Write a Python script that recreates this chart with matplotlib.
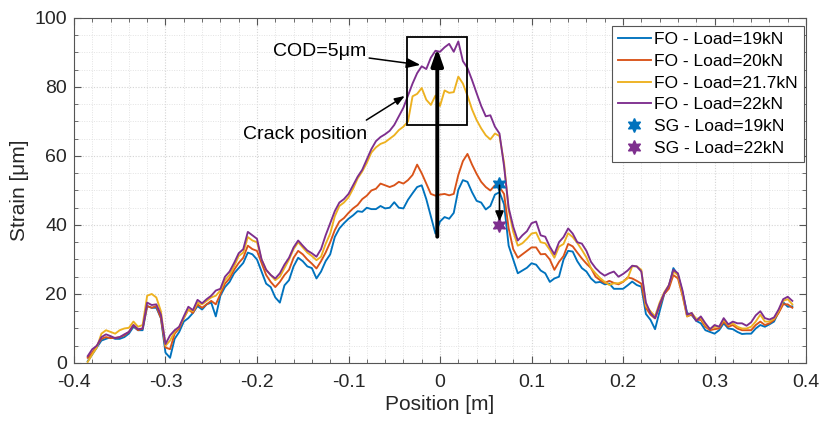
import numpy as np
import matplotlib
matplotlib.use("Agg")
import matplotlib.pyplot as plt
from matplotlib.ticker import MultipleLocator
from matplotlib.patches import Rectangle

plt.rcParams['font.family'] = ['Liberation Sans', 'DejaVu Sans']

# ---------------- data ----------------
position = np.linspace(-0.385, 0.385, 155)

fo_19kN = [
    0.5, 2.5, 4.5, 6.5, 7.0, 7.5, 7.0, 7.0, 7.5, 8.5,
    10.5, 9.5, 9.5, 16.5, 16.0, 16.0, 13.0, 3.0, 1.5, 7.0,
    9.0, 12.0, 13.0, 14.5, 16.5, 15.5, 17.0, 17.5, 13.5, 19.5,
    22.0, 23.5, 26.0, 27.5, 29.0, 32.0, 31.5, 30.0, 26.5, 23.0,
    22.0, 19.0, 17.5, 22.5, 24.0, 28.0, 30.5, 29.5, 28.0, 27.5,
    24.5, 26.5, 29.5, 31.5, 36.5, 39.0, 40.5, 41.8, 42.8, 44.0,
    43.8, 45.0, 44.6, 44.6, 45.5, 44.8, 45.0, 46.6, 45.0, 44.8,
    47.3, 49.2, 51.0, 51.5, 47.5, 42.5, 37.5, 41.0, 42.3, 41.8,
    43.5, 50.2, 53.0, 52.5, 49.5, 47.0, 46.5, 44.5, 45.5, 48.8,
    49.5, 46.0, 34.0, 30.0, 26.0, 26.8, 27.6, 28.9, 28.5, 26.8,
    26.0, 23.5, 24.5, 25.0, 30.0, 32.5, 32.3, 29.5, 27.5, 26.5,
    24.5, 23.3, 23.5, 22.8, 23.0, 21.5, 21.5, 21.5, 22.5, 23.6,
    22.6, 22.1, 14.2, 12.5, 9.8, 15.0, 20.0, 22.0, 27.5, 25.5,
    20.5, 14.5, 13.9, 12.2, 11.5, 9.5, 9.0, 8.5, 9.5, 11.5,
    10.0, 9.8, 9.0, 8.4, 8.5, 8.5, 10.0, 11.0, 10.5, 11.2,
    12.0, 14.8, 17.6, 16.3, 16.4,
]

fo_20kN = [
    1.5, 3.0, 5.0, 7.0, 7.5, 7.2, 7.3, 7.5, 8.0, 9.0,
    11.0, 9.5, 10.0, 16.5, 16.0, 16.5, 13.0, 4.5, 4.0, 8.5,
    10.0, 13.0, 15.5, 14.5, 17.0, 16.0, 17.0, 18.0, 17.0, 20.0,
    23.0, 24.5, 27.0, 29.0, 30.5, 34.0, 33.0, 32.5, 29.0, 25.5,
    23.5, 22.0, 23.5, 25.5, 27.0, 30.5, 32.5, 31.5, 30.0, 28.8,
    27.4, 29.5, 32.0, 35.0, 38.5, 41.0, 42.0, 43.5, 44.8, 45.8,
    47.5, 48.5, 50.0, 50.5, 52.0, 51.5, 51.0, 51.5, 52.5, 52.0,
    53.0, 54.5, 57.5, 55.0, 52.0, 49.0, 48.5, 48.8, 49.0, 48.6,
    49.0, 54.5, 58.5, 60.6, 57.5, 54.8, 52.5, 51.0, 50.0, 51.5,
    51.0, 49.0, 39.0, 33.0, 30.5, 31.5, 32.5, 33.5, 33.5, 31.5,
    31.6, 30.0, 27.0, 29.3, 31.0, 34.5, 33.8, 32.0, 30.3, 28.8,
    27.5, 25.0, 24.0, 23.2, 23.8, 23.2, 22.8, 23.5, 24.8, 24.5,
    23.8, 23.0, 16.0, 14.0, 12.9, 16.5, 20.0, 21.5, 25.5, 24.5,
    19.5, 13.5, 14.0, 12.5, 12.5, 10.5, 9.5, 9.8, 10.0, 12.0,
    10.5, 11.0, 10.0, 9.5, 9.5, 9.5, 11.0, 12.0, 11.0, 11.5,
    12.5, 14.5, 17.0, 17.0, 16.0,
]

fo_21_7kN = [
    0.3, 2.5, 4.5, 8.5, 9.5, 9.0, 8.5, 9.5, 10.0, 10.2,
    12.0, 10.5, 11.0, 19.5, 20.0, 19.0, 15.0, 5.0, 6.5, 9.0,
    10.5, 13.0, 15.5, 15.0, 17.5, 17.0, 18.0, 19.0, 19.5, 21.0,
    24.0, 25.5, 28.0, 31.0, 32.0, 36.5, 35.5, 35.0, 30.0, 27.0,
    25.5, 24.0, 25.0, 27.5, 30.0, 33.0, 35.0, 33.5, 32.0, 31.0,
    29.8, 30.8, 34.5, 37.5, 42.5, 45.5, 46.5, 48.0, 50.5, 53.5,
    55.5, 58.0, 61.0, 62.5, 63.5, 64.0, 65.0, 66.0, 67.5, 68.5,
    70.0, 77.3, 78.0, 79.7, 76.3, 74.8, 77.5, 74.5, 79.0, 78.3,
    78.5, 83.0, 81.0, 77.5, 73.5, 70.4, 68.0, 66.0, 64.8, 66.5,
    65.8, 58.0, 44.3, 38.0, 34.0, 34.7, 36.0, 37.5, 37.8, 35.0,
    34.7, 32.8, 30.5, 33.7, 34.5, 37.6, 36.5, 34.8, 32.8, 30.6,
    27.5, 26.0, 24.6, 23.5, 22.6, 23.1, 23.1, 23.6, 24.5, 28.0,
    28.0, 27.0, 16.5, 15.0, 13.5, 17.5, 20.5, 22.5, 26.5, 25.5,
    20.0, 13.5, 14.5, 12.8, 13.0, 11.0, 9.8, 10.5, 10.5, 12.5,
    11.0, 11.5, 10.5, 10.0, 10.0, 10.5, 12.0, 14.0, 12.0, 12.0,
    12.8, 15.0, 18.0, 18.5, 17.0,
]

fo_22kN = [
    2.0, 4.0, 5.0, 7.5, 8.3, 7.8, 7.2, 7.5, 8.3, 9.0,
    11.0, 9.8, 10.0, 17.5, 16.8, 17.0, 14.0, 5.5, 8.0, 9.5,
    10.5, 13.5, 16.3, 15.3, 18.3, 17.3, 18.5, 19.5, 21.0, 21.5,
    25.0, 26.5, 29.0, 31.8, 33.0, 38.0, 37.0, 36.0, 30.0, 27.0,
    25.5, 24.5, 26.0, 28.5, 30.5, 33.5, 35.5, 34.0, 32.6, 31.8,
    30.8, 33.0, 37.0, 40.5, 44.0, 46.5, 47.5, 49.0, 51.5, 54.0,
    56.0, 59.0, 62.0, 64.3, 65.5, 66.3, 67.3, 69.0, 71.5, 74.0,
    77.5, 81.0, 84.0, 86.0, 85.2, 88.5, 90.5, 90.2, 91.5, 92.5,
    90.2, 93.2, 87.5, 85.5, 82.0, 78.2, 74.5, 71.5, 71.8, 68.5,
    66.5, 57.0, 45.0, 39.5, 35.5, 37.0, 38.2, 40.5, 41.0, 37.0,
    36.6, 33.7, 31.5, 35.0, 36.5, 39.0, 37.5, 35.0, 34.6, 32.5,
    29.3, 27.5, 26.2, 25.3, 26.0, 26.5, 25.0, 25.8, 26.8, 28.2,
    28.0, 26.5, 17.5, 14.5, 13.0, 17.0, 20.2, 22.5, 27.0, 26.0,
    21.0, 14.0, 14.5, 12.2, 13.5, 11.5, 9.8, 11.0, 10.5, 13.0,
    11.2, 12.0, 11.5, 11.5, 10.8, 11.8, 13.8, 15.0, 13.0, 12.6,
    13.2, 15.5, 18.5, 19.2, 18.0,
]

sg_position = [0.065]
sg_19kN = [52.0]
sg_22kN = [40.0]

fo_labels = ['FO - Load=19kN', 'FO - Load=20kN', 'FO - Load=21.7kN', 'FO - Load=22kN']
sg_labels = ['SG - Load=19kN', 'SG - Load=22kN']
x_ticks = [-0.4, -0.3, -0.2, -0.1, 0.0, 0.1, 0.2, 0.3, 0.4]
x_ticklabels = ['-0.4', '-0.3', '-0.2', '-0.1', '0', '0.1', '0.2', '0.3', '0.4']
y_ticks = [0, 20, 40, 60, 80, 100]
y_ticklabels = ['0', '20', '40', '60', '80', '100']
colors = ['#0072BD', '#D95319', '#EDB120', '#7E2F8E']

# ---------------- figure ----------------
fig = plt.figure(figsize=(8.2, 4.21), dpi=100)
ax = fig.add_axes([0.0902, 0.1378, 0.8928, 0.8195])

series = [fo_19kN, fo_20kN, fo_21_7kN, fo_22kN]
for vals, lab, col in zip(series, fo_labels, colors):
    ax.plot(position, vals, color=col, lw=1.35, label=lab)

star = (6, 1, 0)
ax.plot(sg_position, sg_19kN, linestyle='none', marker=star, markersize=10,
        color=colors[0], label=sg_labels[0], zorder=5)
ax.plot(sg_position, sg_22kN, linestyle='none', marker=star, markersize=10,
        color=colors[3], label=sg_labels[1], zorder=5)

# small arrow between the strain gauge values
ax.annotate('', xy=(sg_position[0], sg_22kN[0] + 1.0), xytext=(sg_position[0], sg_19kN[0] - 0.5),
            arrowprops=dict(arrowstyle='-|>,head_length=0.6,head_width=0.25', lw=1.2,
                            color='k', shrinkA=0, shrinkB=0), zorder=6)

# crack box and big arrow
ax.add_patch(Rectangle((-0.0365, 69.0), 0.0665, 25.6, fill=False, ec='k', lw=1.3, zorder=6))
ax.annotate('', xy=(-0.003, 91.2), xytext=(-0.003, 36.6),
            arrowprops=dict(arrowstyle='-|>,head_length=1.0,head_width=0.35', lw=2.8,
                            color='k', shrinkA=0, shrinkB=0), zorder=7)

ax.annotate('COD=5\u03bcm', xy=(-0.0215, 86.4), xytext=(-0.0805, 90.3),
            ha='right', va='center', fontsize=14,
            arrowprops=dict(arrowstyle='-|>,head_length=0.6,head_width=0.22', lw=1.1,
                            color='k', shrinkA=0, shrinkB=0))
ax.text(-0.0795, 66.1, 'Crack position', ha='right', va='center', fontsize=14)
ax.annotate('', xy=(-0.0385, 77.4), xytext=(-0.0805, 70.4),
            arrowprops=dict(arrowstyle='-|>,head_length=0.6,head_width=0.22', lw=1.1,
                            color='k', shrinkA=0, shrinkB=0))

# axes styling
ax.set_xlim(-0.4, 0.4)
ax.set_ylim(0, 100)
ax.set_xticks(x_ticks)
ax.set_xticklabels(x_ticklabels)
ax.set_yticks(y_ticks)
ax.set_yticklabels(y_ticklabels)
ax.xaxis.set_minor_locator(MultipleLocator(0.02))
ax.yaxis.set_minor_locator(MultipleLocator(5))

ax.grid(which='major', color='#d4d4d4', lw=0.8, linestyle=(0, (1, 1.5)))
ax.grid(which='minor', color='#e3e3e3', lw=0.7, linestyle=(0, (1, 1.5)))
ax.set_axisbelow(True)
for s in ax.spines.values():
    s.set_color('#555555')
    s.set_linewidth(0.8)
ax.tick_params(which='both', direction='in', top=True, right=True, colors='#555555',
               labelcolor='#262626', labelsize=14)
ax.tick_params(which='major', length=5, width=0.8)
ax.tick_params(which='minor', length=3, width=0.6)
ax.tick_params(axis='x', pad=8)
ax.tick_params(axis='y', pad=5)

ax.set_xlabel('Position [m]', fontsize=15, color='#262626', labelpad=3)
ax.set_ylabel('Strain [\u03bcm]', fontsize=15, color='#262626', labelpad=4)

leg = ax.legend(loc='upper right', bbox_to_anchor=(0.997, 0.977), fontsize=12.5,
                frameon=True, fancybox=False, edgecolor='#555555', framealpha=1,
                handlelength=1.9, handletextpad=0.2, borderpad=0.35, labelspacing=0.38,
                borderaxespad=0.0)
leg.get_frame().set_linewidth(0.8)

fig.savefig('out.png', dpi=100)
